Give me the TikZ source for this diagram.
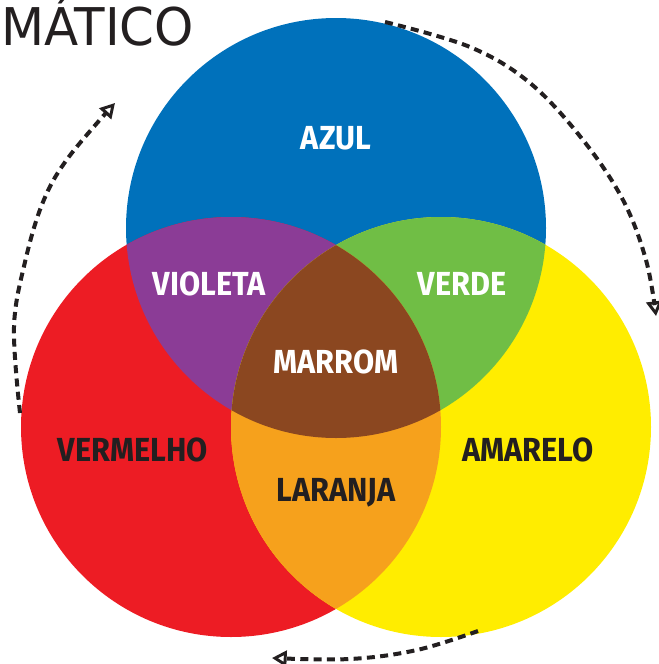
\documentclass[tikz,border=0pt]{standalone}
\usepackage{fontspec}
\usetikzlibrary{arrows.meta}
\newfontfamily\lab{Fira Sans}[FakeStretch=0.92]
\newfontfamily\ttl{DejaVu Sans}[FakeStretch=0.96]
\definecolor{cblue}{HTML}{0071BB}
\definecolor{cred}{HTML}{ED1C24}
\definecolor{cyellow}{HTML}{FFED00}
\definecolor{cpurple}{HTML}{8B3C96}
\definecolor{cgreen}{HTML}{70BE45}
\definecolor{cbrown}{HTML}{8B4720}
\definecolor{corange}{HTML}{F6A11C}
\definecolor{cdark}{HTML}{231F20}
\tikzset{
  lbl/.style={font=\lab\bfseries\fontsize{25}{25}\selectfont, inner sep=0pt},
  wlbl/.style={lbl, text=white},
  klbl/.style={lbl, text=cdark},
  cycarrow/.style={draw=cdark, line width=3pt, dash pattern=on 6pt off 4pt,
    -{Triangle[open, length=11pt, width=12pt, line width=2.2pt]}},
}
\begin{document}
\begin{tikzpicture}[x=0.75pt, y=-0.75pt]
\useasboundingbox (0,0) rectangle (659,664);
\def\cB{(336,228) circle (210)}
\def\cR{(231,427) circle (210)}
\def\cY{(441,427) circle (210)}
% base circles
\fill[cblue] \cB;
\fill[cred] \cR;
\fill[cyellow] \cY;
% pairwise overlaps
\begin{scope}\clip \cB; \fill[cpurple] \cR; \end{scope}
\begin{scope}\clip \cB; \fill[cgreen] \cY; \end{scope}
\begin{scope}\clip \cR; \fill[corange] \cY; \end{scope}
\begin{scope}\clip \cB; \clip \cR; \fill[cbrown] \cY; \end{scope}
% labels
\node[wlbl] (azul) at (336,138) {AZUL};
\node[wlbl] (violeta) at (209,284) {VIOLETA};
\node[wlbl] (verde) at (462,284) {VERDE};
\node[wlbl] (marrom) at (336,362) {MARROM};
\node[klbl] (vermelho) at (133,450) {VERMELHO};
\node[klbl] (amarelo) at (528,450) {AMARELO};
\node[klbl] (laranja) at (336,493) {LARANJA};
% title
\node[anchor=south west, inner sep=0pt, text=cdark,
  font=\ttl\fontsize{39}{39}\selectfont] (title) at (1,47) {MÁTICO};
% cycle arrows
\coordinate (l1) at (20,413);
\coordinate (l2) at (14,327);
\coordinate (l3) at (25,262);
\coordinate (l4) at (43,202);
\coordinate (l5) at (68,158);
\coordinate (l6) at (115,103);
\draw[cycarrow] plot[smooth, tension=0.6] coordinates {(l1) (l2) (l3) (l4) (l5) (l6)};
\coordinate (r1) at (385,22);
\coordinate (r2) at (470,47);
\coordinate (r3) at (530,83);
\coordinate (r4) at (583,140);
\coordinate (r5) at (623,200);
\coordinate (r6) at (646,260);
\coordinate (r7) at (656,316);
\draw[cycarrow] plot[smooth, tension=0.6] coordinates {(r1) (r2) (r3) (r4) (r5) (r6) (r7)};
\coordinate (b1) at (478,631);
\coordinate (b2) at (417,650);
\coordinate (b3) at (350,659);
\coordinate (b4) at (272,658);
\draw[cycarrow] plot[smooth, tension=0.6] coordinates {(b1) (b2) (b3) (b4)};
\end{tikzpicture}
\end{document}
